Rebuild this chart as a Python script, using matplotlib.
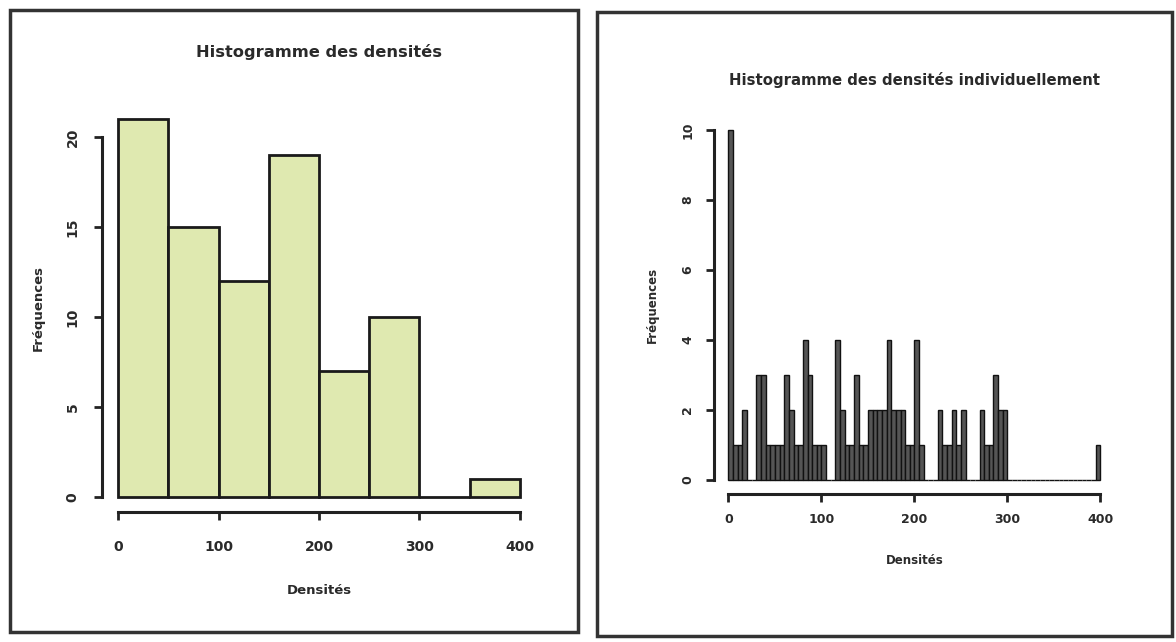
import numpy as np
import matplotlib
matplotlib.use("Agg")
import matplotlib.pyplot as plt
from matplotlib.patches import Rectangle

# Left panel: coarse histogram (bins of 50)
coarse_edges = [0, 50, 100, 150, 200, 250, 300, 350, 400]
coarse_counts = [21, 15, 12, 19, 7, 10, 0, 1]

# Right panel: fine histogram (bins of 5 from 0 to 400)
fine_width = 5
fine_counts = [
    10, 1, 1, 2, 0, 0, 3, 3, 1, 1,
    1, 1, 3, 2, 1, 1, 4, 3, 1, 1,
    1, 0, 0, 4, 2, 1, 1, 3, 1, 1,
    2, 2, 2, 2, 4, 2, 2, 2, 1, 1,
    4, 1, 0, 0, 0, 2, 1, 1, 2, 1,
    2, 0, 0, 0, 2, 1, 1, 3, 2, 2,
    0, 0, 0, 0, 0, 0, 0, 0, 0, 0,
    0, 0, 0, 0, 0, 0, 0, 0, 0, 1,
]

x_ticks = [0, 100, 200, 300, 400]
left_yticks = [0, 5, 10, 15, 20]
right_yticks = [0, 2, 4, 6, 8, 10]

TXT = "#2a2a2a"
W, H = 1176, 642


def r_style(ax, yticks, size, xpad, ypad):
    for s in ("top", "right"):
        ax.spines[s].set_visible(False)
    ax.spines["left"].set_bounds(yticks[0], yticks[-1])
    ax.spines["bottom"].set_bounds(x_ticks[0], x_ticks[-1])
    for s in ("left", "bottom"):
        ax.spines[s].set_linewidth(2.2)
        ax.spines[s].set_color("#222222")
    ax.set_xticks(x_ticks)
    ax.set_yticks(yticks)
    ax.tick_params(direction="out", length=6, width=2, colors="#222222",
                   labelcolor=TXT, labelsize=size)
    ax.tick_params(axis="x", pad=xpad)
    ax.tick_params(axis="y", pad=ypad)
    for lab in ax.get_xticklabels() + ax.get_yticklabels():
        lab.set_fontweight("bold")
    for lab in ax.get_yticklabels():
        lab.set_rotation(90)
        lab.set_va("center")


fig = plt.figure(figsize=(W / 100, H / 100), dpi=100)
fig.patch.set_facecolor("white")

# panel frames
for x0, y0, x1, y1 in [(10, 10, 578, 632), (597, 12, 1172, 636)]:
    fig.patches.append(Rectangle((x0 / W, 1 - y1 / H), (x1 - x0) / W, (y1 - y0) / H,
                                 transform=fig.transFigure, fill=False,
                                 edgecolor="#333333", linewidth=2.5))

# left histogram
ax1 = fig.add_axes([102 / W, 1 - 512 / H, 434 / W, 408 / H])
ax1.set_facecolor("none")
ax1.bar(coarse_edges[:-1], coarse_counts, width=np.diff(coarse_edges), align="edge",
        color="#dfe9b0", edgecolor="#1a1a1a", linewidth=2)
ax1.set_xlim(-16, 416)
ax1.set_ylim(-0.84, 21.84)
r_style(ax1, left_yticks, 10, 14, 10)
ax1.set_title("Histogramme des densités", fontsize=11.7, fontweight="bold", color=TXT, pad=34)
ax1.set_xlabel("Densités", fontsize=9.5, fontweight="bold", color=TXT, labelpad=22)
ax1.set_ylabel("Fréquences", fontsize=9.5, fontweight="bold", color=TXT, labelpad=15)

# right histogram
fine_edges = np.arange(len(fine_counts)) * fine_width
ax2 = fig.add_axes([713.6 / W, 1 - 494 / H, 401.7 / W, 378 / H])
ax2.set_facecolor("none")
ax2.bar(fine_edges, fine_counts, width=fine_width, align="edge",
        color="#555555", edgecolor="#111111", linewidth=1)
ax2.set_xlim(-16, 416)
ax2.set_ylim(-0.4, 10.4)
r_style(ax2, right_yticks, 9, 8, 8)
ax2.set_title("Histogramme des densités individuellement", fontsize=10.7, fontweight="bold",
              color=TXT, pad=22)
ax2.set_xlabel("Densités", fontsize=8.5, fontweight="bold", color=TXT, labelpad=20)
ax2.set_ylabel("Fréquences", fontsize=8.5, fontweight="bold", color=TXT, labelpad=16)

fig.savefig("out.png", dpi=100)
